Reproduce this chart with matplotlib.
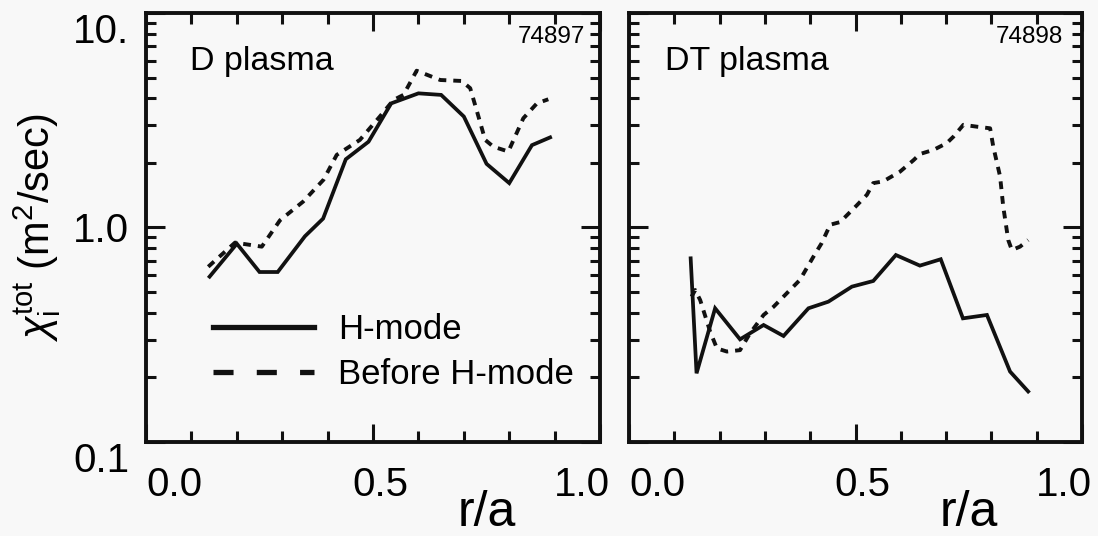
import matplotlib
matplotlib.use("Agg")
import matplotlib.pyplot as plt
from matplotlib.lines import Line2D
from matplotlib.ticker import LogLocator, NullFormatter, FixedLocator
import matplotlib.transforms as mtransforms

plt.rcParams['font.family'] = ['Liberation Sans', 'DejaVu Sans']
plt.rcParams['mathtext.fontset'] = 'custom'
plt.rcParams['mathtext.rm'] = 'Liberation Sans'
plt.rcParams['mathtext.it'] = 'Liberation Sans:italic'
plt.rcParams['mathtext.bf'] = 'Liberation Sans:bold'

# D plasma, shot 74897
d_h_r = [0.14, 0.20, 0.25, 0.29, 0.35, 0.39, 0.44, 0.49, 0.54, 0.60, 0.65, 0.70, 0.75, 0.80, 0.85, 0.89]
d_h_chi = [0.59, 0.84, 0.62, 0.62, 0.91, 1.10, 2.08, 2.51, 3.79, 4.22, 4.15, 3.29, 1.98, 1.61, 2.42, 2.63]
d_pre_r = [0.137, 0.196, 0.255, 0.295, 0.346, 0.391, 0.42, 0.471, 0.515, 0.545, 0.567, 0.596,
           0.648, 0.695, 0.714, 0.728, 0.747, 0.765, 0.798, 0.831, 0.861, 0.886]
d_pre_chi = [0.656, 0.85, 0.814, 1.08, 1.32, 1.67, 2.18, 2.56, 3.29, 3.93, 4.15, 5.38,
             4.87, 4.82, 4.46, 3.53, 2.56, 2.38, 2.26, 3.23, 3.79, 3.96]

# DT plasma, shot 74898
dt_h_r = [0.136, 0.149, 0.19, 0.245, 0.297, 0.341, 0.396, 0.44, 0.492, 0.539, 0.589, 0.642,
          0.688, 0.737, 0.79, 0.841, 0.881]
dt_h_chi = [0.718, 0.209, 0.42, 0.301, 0.351, 0.312, 0.42, 0.451, 0.53, 0.563, 0.744, 0.664,
            0.711, 0.377, 0.391, 0.213, 0.172]
dt_pre_r = [0.138, 0.146, 0.157, 0.179, 0.194, 0.216, 0.245, 0.267, 0.297, 0.319, 0.348, 0.377,
            0.407, 0.425, 0.444, 0.466, 0.503, 0.525, 0.539, 0.561, 0.598, 0.628, 0.642, 0.672,
            0.701, 0.716, 0.738, 0.768, 0.797, 0.804, 0.819, 0.826, 0.837, 0.845, 0.863, 0.881]
dt_pre_chi = [0.476, 0.511, 0.459, 0.327, 0.273, 0.264, 0.268, 0.321, 0.391, 0.427, 0.493, 0.569,
              0.731, 0.844, 1.03, 1.06, 1.27, 1.42, 1.61, 1.64, 1.82, 2.06, 2.20, 2.30,
              2.47, 2.65, 3.01, 2.95, 2.90, 2.38, 1.73, 1.25, 0.874, 0.785, 0.814, 0.874]

panels = [
    ("D plasma", "74897", d_h_r, d_h_chi, d_pre_r, d_pre_chi, 0.097, 0.967),
    ("DT plasma", "74898", dt_h_r, dt_h_chi, dt_pre_r, dt_pre_chi, 0.080, 0.958),
]

bg = '#f8f8f8'
ink = '#111111'
fig = plt.figure(figsize=(10.98, 5.36), dpi=100, facecolor=bg)
ax_l = fig.add_axes([0.133, 0.1754, 0.4135, 0.8004])
ax_r = fig.add_axes([0.5729, 0.1754, 0.4126, 0.8004])

for i, (ax, (name, shot, hr, hc, pr, pc, nx, sx)) in enumerate(zip([ax_l, ax_r], panels)):
    ax.set_facecolor(bg)
    ax.plot(hr, hc, color=ink, lw=2.7, solid_joinstyle='miter')
    ax.plot(pr, pc, color=ink, lw=2.8, linestyle=(0, (2.0, 1.8)))
    ax.set_yscale('log')
    ax.set_ylim(0.1, 10)
    ax.set_xlim(0, 1.0)
    for s in ax.spines.values():
        s.set_linewidth(2.8)
        s.set_color(ink)

    ax.yaxis.set_major_locator(FixedLocator([0.1, 1.0, 10.0]))
    ax.yaxis.set_minor_locator(LogLocator(base=10, subs=range(2, 10)))
    ax.yaxis.set_minor_formatter(NullFormatter())
    ax.xaxis.set_major_locator(FixedLocator([0.0, 0.5, 1.0]))
    ax.xaxis.set_minor_locator(FixedLocator([0.1, 0.2, 0.3, 0.4, 0.6, 0.7, 0.8, 0.9]))
    ax.tick_params(which='both', direction='in', top=True, right=True, color=ink, width=2.2)
    ax.tick_params(axis='y', which='major', length=14, pad=12, labelsize=29)
    ax.tick_params(axis='y', which='minor', length=7)
    ax.tick_params(axis='x', which='major', length=13, pad=17, labelsize=29)
    ax.tick_params(axis='x', which='minor', length=8)

    ax.set_xticklabels(['0.0', '0.5', '1.0'])
    xl = ax.get_xticklabels()
    xl[0].set_ha('left')
    xl[1].set_transform(xl[1].get_transform() +
                        mtransforms.ScaledTranslation(5 / 72, 0, fig.dpi_scale_trans))
    xl[2].set_ha('right')
    xl[2].set_transform(xl[2].get_transform() +
                        mtransforms.ScaledTranslation(7 / 72, 0, fig.dpi_scale_trans))

    if i == 0:
        ax.set_yticklabels(['0.1', '1.0', '10.'])
        yl = ax.get_yticklabels()
        yl[0].set_va('top')
        yl[2].set_va('top')
        ax.set_ylabel(r'$\chi_{\rm i}^{\rm tot}$ (m$^2$/sec)', fontsize=30)
        ax.yaxis.set_label_coords(-0.183, 0.5)
    else:
        ax.set_yticklabels([])

    ax.set_xlabel('r/a', fontsize=36, va='top')
    ax.xaxis.set_label_coords(0.75, -0.112)

    ax.text(nx, 0.867, name, transform=ax.transAxes, fontsize=24.5, va='baseline', ha='left')
    ax.text(sx, 0.944, shot, transform=ax.transAxes, fontsize=17.5, va='center', ha='right')

handles = [Line2D([], [], color=ink, lw=3.8),
           Line2D([], [], color=ink, lw=3.8, linestyle=(0, (3.8, 4.4)))]
ax_l.legend(handles, ['H-mode', 'Before H-mode'], loc='upper left',
            bbox_to_anchor=(0.148, 0.300), frameon=False, fontsize=25,
            handlelength=2.9, handletextpad=0.7, labelspacing=0.35,
            borderpad=0, borderaxespad=0)

plt.savefig("out.png", dpi=100, facecolor=bg)
